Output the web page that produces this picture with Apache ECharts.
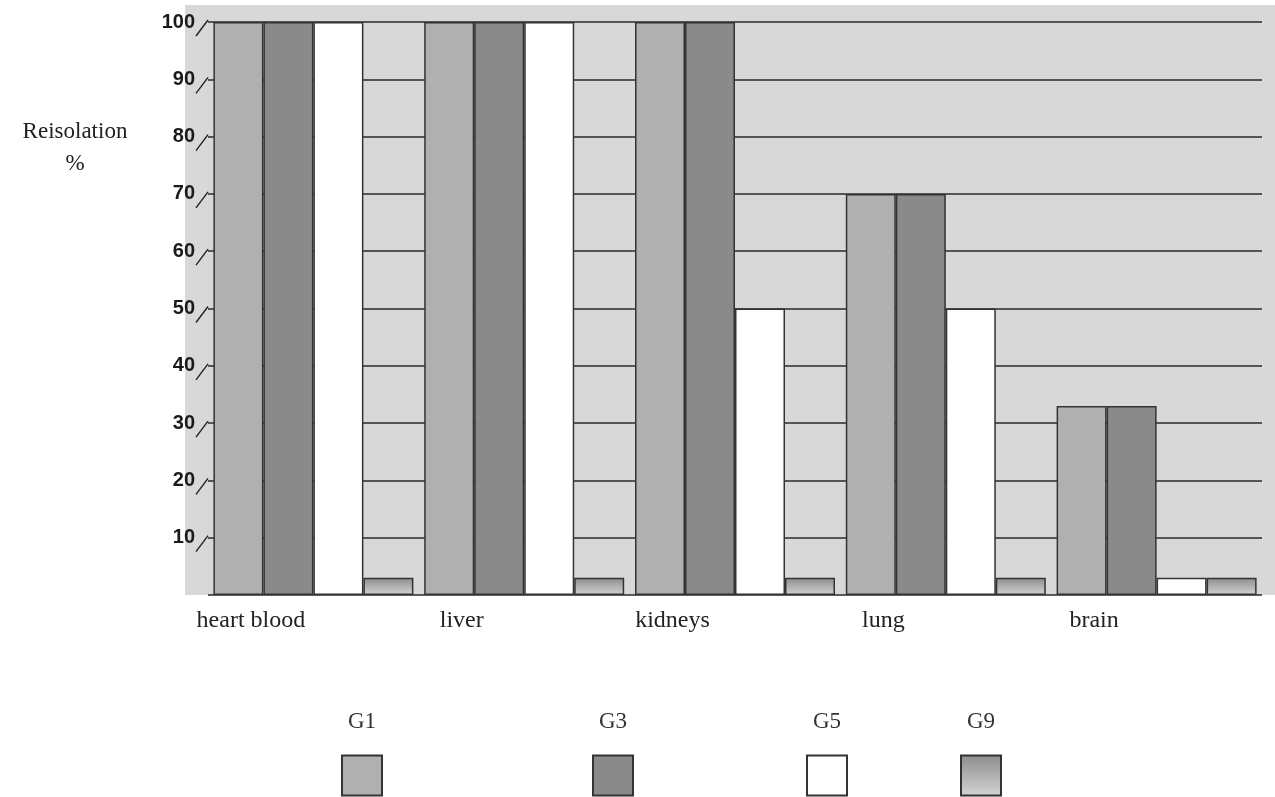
<!DOCTYPE html>
<html>
<head>
<meta charset="utf-8">
<script src="https://cdn.jsdelivr.net/npm/echarts@6/dist/echarts.min.js"></script>
<style>
  html, body { margin: 0; padding: 0; background: #ffffff; }
  #chart { width: 1275px; height: 797px; }
</style>
</head>
<body>
<div id="chart"></div>
<script>
// Organs sampled and reisolation rate (%) per group
const categories = ['heart blood', 'liver', 'kidneys', 'lung', 'brain'];
const g1 = [100, 100, 100, 70, 33];
const g3 = [100, 100, 100, 70, 33];
const g5 = [100, 100, 50, 50, 3];
const g9 = [3, 3, 3, 3, 3];
const yTicks = [10, 20, 30, 40, 50, 60, 70, 80, 90, 100];

const serif = 'Liberation Serif';
const sans = 'Liberation Sans';
const edge = '#333333';

const chart = echarts.init(document.getElementById('chart'));

function barSeries(name, data, fill) {
  return {
    name: name,
    type: 'bar',
    data: data,
    barWidth: 50,
    barGap: '0%',
    itemStyle: { color: fill, borderColor: edge, borderWidth: 1.5 }
  };
}

// one legend per group: name set above its swatch
function legendFor(name, left) {
  return {
    data: [name],
    left: left,
    top: 703,
    itemWidth: 40,
    itemHeight: 40,
    icon: 'rect',
    selectedMode: false,
    formatter: '{name}\n\n\n\n',
    textStyle: {
      fontFamily: serif,
      fontSize: 23,
      lineHeight: 27,
      color: '#333',
      padding: [0, 0, 0, -39]
    }
  };
}

const g9Fill = new echarts.graphic.LinearGradient(0, 0, 0, 1, [
  { offset: 0, color: '#8c8c8c' },
  { offset: 1, color: '#d4d4d4' }
]);

chart.setOption({
  animation: false,
  backgroundColor: '#ffffff',
  title: {
    text: 'Reisolation\n%',
    left: 70,
    top: 111,
    textAlign: 'center',
    textStyle: { fontFamily: serif, fontSize: 23, fontWeight: 'normal', color: '#222', lineHeight: 32 }
  },
  graphic: [{
    type: 'rect',
    z: -10,
    silent: true,
    shape: { x: 185, y: 5, width: 1090, height: 590 },
    style: { fill: '#d8d8d8' }
  }],
  grid: { left: 208, right: 13, top: 22, bottom: 202 },
  legend: [
    legendFor('G1', 336),
    legendFor('G3', 587),
    legendFor('G5', 801),
    legendFor('G9', 955)
  ],
  xAxis: {
    type: 'category',
    data: categories,
    axisLine: { show: false },
    axisTick: { show: false },
    axisLabel: {
      fontFamily: serif,
      fontSize: 24,
      color: '#222',
      margin: 14,
      padding: [0, 125, 0, 0]
    }
  },
  yAxis: {
    type: 'value',
    min: 0,
    max: 100,
    interval: 10,
    axisLine: { show: false },
    axisTick: { show: false },
    splitLine: { lineStyle: { color: '#2a2a2a', width: 1.6 } },
    axisLabel: {
      showMinLabel: false,
      fontFamily: sans,
      fontWeight: 'bold',
      fontSize: 20,
      color: '#1a1a1a',
      margin: 13
    }
  },
  series: [
    barSeries('G1', g1, '#b0b0b0'),
    barSeries('G3', g3, '#8a8a8a'),
    barSeries('G5', g5, '#ffffff'),
    barSeries('G9', g9, g9Fill),
    {
      // slanted depth strokes joining each value label to its gridline
      type: 'custom',
      silent: true,
      z: 5,
      data: yTicks.map(v => [categories[0], v]),
      renderItem: function (params, api) {
        const y = api.coord([0, api.value(1)])[1];
        const x0 = params.coordSys.x;
        return {
          type: 'line',
          shape: { x1: x0 - 12, y1: y + 14, x2: x0, y2: y - 2 },
          style: { stroke: '#222', lineWidth: 1.4 }
        };
      }
    }
  ]
});
</script>
</body>
</html>
